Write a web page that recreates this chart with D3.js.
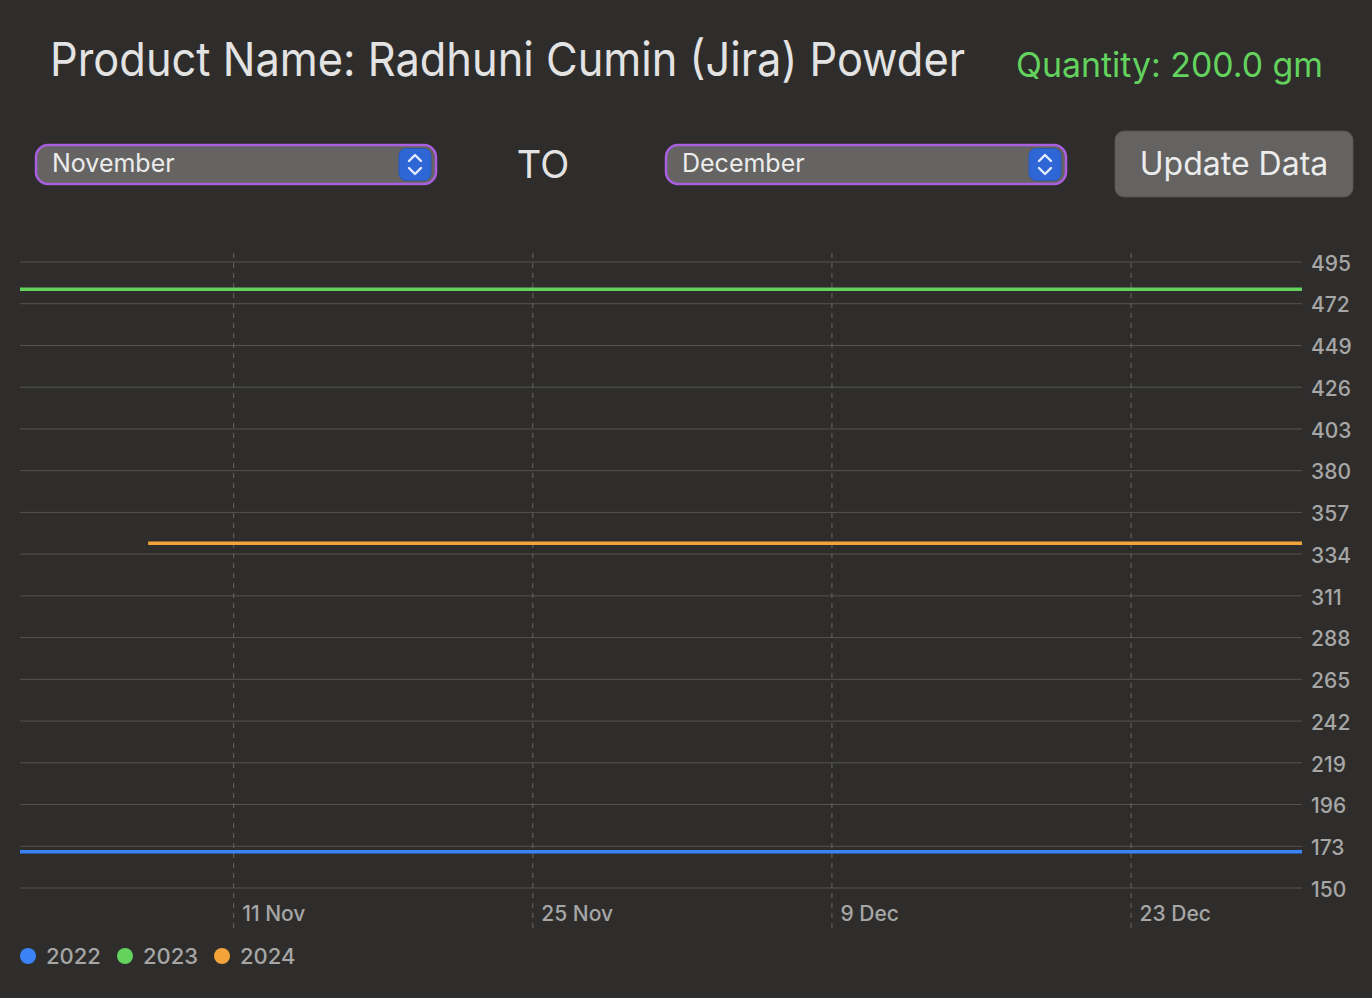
<!DOCTYPE html>
<html>
<head>
<meta charset="utf-8">
<script src="https://cdn.jsdelivr.net/npm/d3@7"></script>
<style>
  html, body { margin:0; padding:0; background:#2e2d2b; }
  svg { display:block; }
  text { font-family: Inter, "Open Sans", Roboto, sans-serif; }
</style>
</head>
<body>
<svg id="chart" width="1372" height="998"></svg>
<script>
const productTitle = "Product Name: Radhuni Cumin (Jira) Powder";
const quantityLabel = "Quantity: 200.0 gm";
const fromMonth = "November";
const toMonth = "December";
const years = ["2022", "2023", "2024"];
const seriesColors = ["#3b82f6", "#63d35e", "#f2a33a"];
const dates2022 = ["2024-11-01", "2024-12-31"];
const values2022 = [170, 170];
const dates2023 = ["2024-11-01", "2024-12-31"];
const values2023 = [480, 480];
const dates2024 = ["2024-11-07", "2024-12-31"];
const values2024 = [340, 340];
const yTicks = [150,173,196,219,242,265,288,311,334,357,380,403,426,449,472,495];
const xTickDates = ["2024-11-11", "2024-11-25", "2024-12-09", "2024-12-23"];
const xDomain = ["2024-11-01", "2024-12-31"];

const parse = d3.utcParse("%Y-%m-%d");
const svg = d3.select("#chart");

// Header
svg.append("text").attr("x", 50).attr("y", 76).attr("font-size", 47)
  .attr("fill", "#e3e3e3").attr("textLength", 915).attr("lengthAdjust","spacingAndGlyphs")
  .text(productTitle);
svg.append("text").attr("x", 1016).attr("y", 77).attr("font-size", 34)
  .attr("fill", "#63d35e").attr("textLength", 307).attr("lengthAdjust","spacingAndGlyphs")
  .text(quantityLabel);

// Dropdowns
function dropdown(x, label) {
  const g = svg.append("g").attr("transform", `translate(${x},144)`);
  g.append("rect").attr("x", 1).attr("y", 1).attr("width", 400).attr("height", 39).attr("rx", 12)
    .attr("fill", "#656463").attr("stroke", "#a95fe0").attr("stroke-width", 2.5);
  g.append("text").attr("x", 17).attr("y", 28).attr("font-size", 25).attr("fill", "#ececec").text(label);
  g.append("rect").attr("x", 364).attr("y", 4.5).attr("width", 32).attr("height", 32).attr("rx", 7)
    .attr("fill", "#2f66d6").attr("stroke", "#2857b8").attr("stroke-width", 1);
  g.append("path").attr("d", "M374,17 L380,11 L386,17 M374,24 L380,30 L386,24")
    .attr("fill", "none").attr("stroke", "#e6ecff").attr("stroke-width", 2.4)
    .attr("stroke-linecap", "round").attr("stroke-linejoin", "round");
}
dropdown(35, fromMonth);
dropdown(665, toMonth);

svg.append("text").attr("x", 543).attr("y", 178).attr("font-size", 38).attr("text-anchor", "middle")
  .attr("fill", "#e3e3e3").text("TO");

// Button
svg.append("rect").attr("x", 1115).attr("y", 131).attr("width", 238).attr("height", 66).attr("rx", 9)
  .attr("fill", "#646362").attr("stroke", "#555").attr("stroke-width", 1);
svg.append("text").attr("x", 1234).attr("y", 175).attr("font-size", 32).attr("text-anchor", "middle")
  .attr("fill", "#ececec").text("Update Data");

// Scales
const x = d3.scaleUtc().domain(xDomain.map(parse)).range([20, 1302]);
const y = d3.scaleLinear().domain([150, 495]).range([888, 262]);

// Horizontal grid
svg.append("g").selectAll("line").data(yTicks).join("line")
  .attr("x1", 20).attr("x2", 1302)
  .attr("y1", d => y(d)).attr("y2", d => y(d))
  .attr("stroke", "#555452").attr("stroke-width", 1);

// Y axis labels (right)
const yAxis = d3.axisRight(y).tickValues(yTicks).tickSize(0).tickPadding(9);
const yg = svg.append("g").attr("transform", "translate(1302,1.5)").call(yAxis);
yg.select(".domain").remove();
yg.selectAll("text").attr("font-size", 21).attr("fill", "#a6a6a6").attr("font-weight", 500)
  .attr("font-family", "Inter, 'Open Sans', sans-serif");

// Vertical dashed grid
const xTicks = xTickDates.map(parse);
svg.append("g").selectAll("line").data(xTicks).join("line")
  .attr("x1", d => x(d)).attr("x2", d => x(d))
  .attr("y1", 253).attr("y2", 928)
  .attr("stroke", "#666563").attr("stroke-width", 1).attr("stroke-dasharray", "5,5");

// X axis labels
const xAxis = d3.axisBottom(x).tickValues(xTicks).tickSize(0).tickPadding(0)
  .tickFormat(d3.utcFormat("%-d %b"));
const xg = svg.append("g").attr("transform", "translate(0,921)").call(xAxis);
xg.select(".domain").remove();
xg.selectAll("text").attr("font-size", 21).attr("fill", "#a6a6a6").attr("font-weight", 500)
  .attr("text-anchor", "start").attr("dx", 8).attr("dy", 0)
  .attr("font-family", "Inter, 'Open Sans', sans-serif");

// Lines
const series = [
  { name: years[0], dates: dates2022, values: values2022, color: seriesColors[0] },
  { name: years[1], dates: dates2023, values: values2023, color: seriesColors[1] },
  { name: years[2], dates: dates2024, values: values2024, color: seriesColors[2] },
];
const line = d3.line().x(d => x(d.date)).y(d => y(d.value));
series.forEach(s => {
  const pts = s.dates.map((d, i) => ({ date: parse(d), value: s.values[i] }));
  svg.append("path").datum(pts).attr("d", line)
    .attr("fill", "none").attr("stroke", s.color).attr("stroke-width", 3.5);
});

// Legend
const legendX = [28, 125, 222];
series.forEach((s, i) => {
  svg.append("circle").attr("cx", legendX[i]).attr("cy", 956).attr("r", 8).attr("fill", s.color);
  svg.append("text").attr("x", legendX[i] + 18).attr("y", 964).attr("font-size", 22)
    .attr("fill", "#a6a6a6").attr("font-weight", 500).text(s.name);
});
</script>
</body>
</html>
